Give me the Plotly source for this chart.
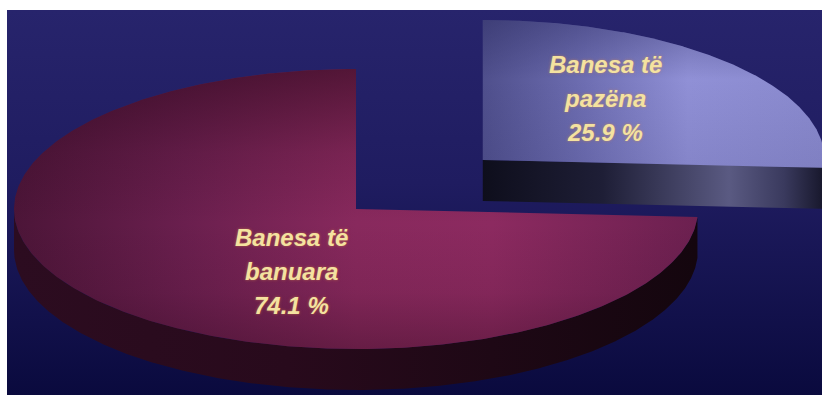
import numpy as np
import plotly.graph_objects as go

# ---------------- data ----------------
categories = ["Banesa të pazëna", "Banesa të banuara"]
values = [25.9, 74.1]
label_lines = [["Banesa të", "pazëna"], ["Banesa të", "banuara"]]
pulls = [0.51, 0.0]

# ---------------- style / geometry ----------------
W, H = 822, 395
X0, Y0 = 7, 10                     # top-left of dark panel
CX, CY, RX, RY, DEPTH = 356, 209, 342, 140, 41
START_ANGLE = 90                   # degrees, slices go clockwise
label_pos = [(605, 98), (291, 271)]
LINE_GAP = 34

face_grad = [
    [[0, "#4f4f8c"], [0.3, "#6e6eb2"], [0.6, "#9090d6"], [1, "#8a8ace"]],
    [[0, "#4c1538"], [0.25, "#6a1f4e"], [0.5, "#88295d"], [0.7, "#8c2a60"], [1, "#6c2050"]],
]
face_shade = [
    [[0, "rgba(30,30,80,0.35)"], [0.4, "rgba(30,30,80,0)"], [1, "rgba(30,30,80,0.1)"]],
    [[0, "rgba(40,6,24,0.55)"], [0.3, "rgba(40,6,24,0.15)"], [0.55, "rgba(40,6,24,0)"],
     [0.8, "rgba(40,6,24,0.1)"], [1, "rgba(40,6,24,0.35)"]],
]
side_grad = [
    [[0, "#0e0e1c"], [0.35, "#1e1e36"], [0.72, "#5a5a82"], [0.88, "#3a3a5e"], [1, "#16162a"]],
    [[0, "#2c0c20"], [0.4, "#280a1c"], [1, "#14060e"]],
]
bg_grad = [[0, "#27246c"], [0.45, "#1f1c60"], [1, "#0a0a3e"]]
text_color = "#f4e2a0"

fig = go.Figure()

# background panel
fig.add_trace(go.Scatter(
    x=[X0, W, W, X0, X0], y=[Y0, Y0, H, H, Y0], mode="lines", line=dict(width=0),
    fill="toself", fillgradient=dict(type="vertical", start=Y0, stop=H, colorscale=bg_grad),
    hoverinfo="skip", showlegend=False))


def pt(cx, cy, t_deg):
    r = np.radians(t_deg)
    return cx + RX * np.cos(r), cy - RY * np.sin(r)


total = sum(values)
t = START_ANGLE
slices = []
for i, (v, p) in enumerate(zip(values, pulls)):
    sweep = 360.0 * v / total
    t0, t1 = t, t - sweep
    t = t1
    mid = np.radians((t0 + t1) / 2)
    cx = CX + p * RX * np.cos(mid)
    cy = CY - p * RY * np.sin(mid)
    slices.append((i, v, t0, t1, cx, cy))

# draw main (unpulled) slice first, then the exploded one
for i, v, t0, t1, cx, cy in sorted(slices, key=lambda s: pulls[s[0]]):
    # side (visible front part + visible radial cut)
    ts = np.linspace(t1, t0, 600)
    vis = np.sin(np.radians(ts)) < 1e-9
    run = ts[vis]
    chain = [pt(cx, cy, tt) for tt in run]
    if np.cos(np.radians(t1)) > 1e-9:
        chain = [(cx, cy)] + chain
    if np.cos(np.radians(t0)) < -1e-9:
        chain = chain + [(cx, cy)]
    if chain:
        poly = chain + [(x, y + DEPTH) for x, y in reversed(chain)]
        px = [q[0] for q in poly] + [poly[0][0]]
        py = [q[1] for q in poly] + [poly[0][1]]
        fig.add_trace(go.Scatter(
            x=px, y=py, mode="lines", line=dict(width=0), fill="toself",
            fillgradient=dict(type="horizontal", start=min(px), stop=max(px),
                              colorscale=side_grad[i]),
            hoverinfo="skip", showlegend=False))
    # top face
    arc = [pt(cx, cy, tt) for tt in np.linspace(t0, t1, 400)]
    fx = [cx] + [q[0] for q in arc] + [cx]
    fy = [cy] + [q[1] for q in arc] + [cy]
    fig.add_trace(go.Scatter(
        x=fx, y=fy, mode="lines", line=dict(width=0), fill="toself",
        fillgradient=dict(type="horizontal", start=min(fx), stop=max(fx),
                          colorscale=face_grad[i]),
        name=categories[i], hoverinfo="skip", showlegend=False))
    fig.add_trace(go.Scatter(
        x=fx, y=fy, mode="lines", line=dict(width=0), fill="toself",
        fillgradient=dict(type="vertical", start=min(fy), stop=max(fy),
                          colorscale=face_shade[i]),
        hoverinfo="skip", showlegend=False))

for i, v in enumerate(values):
    lx, ly = label_pos[i]
    lines = label_lines[i] + [f"{v:.1f} %"]
    for k, line in enumerate(lines):
        fig.add_annotation(
            x=lx, y=ly + (k - 1) * LINE_GAP, xref="x", yref="y", showarrow=False,
            text=line, align="center",
            font=dict(family="Liberation Sans, Arial", size=24, color=text_color,
                      weight="bold", style="italic",
                      shadow="0px 0px 3px rgba(220,140,70,0.6)"))

fig.update_layout(
    width=W, height=H,
    margin=dict(l=X0, t=Y0, r=0, b=0),
    paper_bgcolor="white", plot_bgcolor="#1e1c5e",
    xaxis=dict(range=[X0, W], visible=False, fixedrange=True),
    yaxis=dict(range=[H, Y0], visible=False, fixedrange=True),
    showlegend=False,
)

fig.write_html("out.html")
